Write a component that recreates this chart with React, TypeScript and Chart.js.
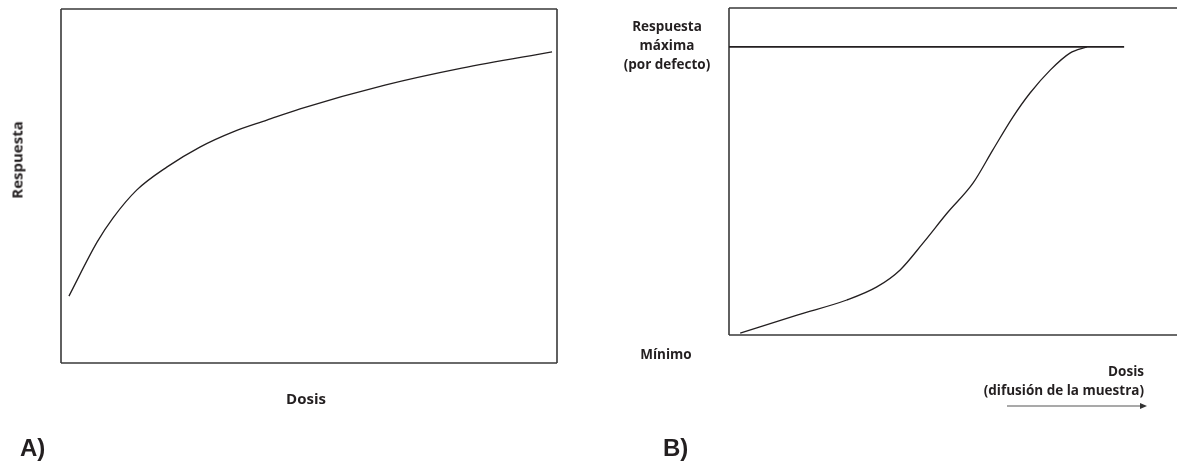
import React, { useEffect, useRef } from 'react';
import { Chart, registerables } from 'chart.js';

Chart.register(...registerables);

// Panel A: dose-response (hyperbolic-like)
const doseA = [1.6, 7.3, 10.5, 15.3, 21.4, 28.0, 34.7, 41.5, 48.2, 65.3, 80.8, 99.0];
const responseA = [18.9, 34.2, 41.0, 48.9, 55.4, 61.0, 65.3, 68.6, 71.8, 78.5, 83.3, 87.9];

// Panel B: sigmoid up to the default maximum response
const doseB = [2.5, 15.2, 26.3, 33.0, 38.2, 43.3, 48.7, 54.5, 58.9, 63.4, 67.2, 71.7, 76.1, 79.9];
const responseB = [0.6, 6.1, 10.7, 14.7, 19.9, 28.1, 37.3, 46.5, 56.6, 66.7, 74.0, 81.0, 86.2, 88.1];
const maxLineDose = [0, 88.2];
const maxResponse = 88.1;

const INK = '#231f20';

type Side = 'left' | 'top' | 'right' | 'bottom';

const framePlugin = {
  id: 'frame',
  beforeDatasetsDraw(chart: any, _args: any, opts: any) {
    const { ctx, chartArea } = chart;
    const { left, top, right, bottom } = chartArea;
    const sides: Side[] = opts.sides || ['left', 'top', 'right', 'bottom'];
    ctx.save();
    ctx.strokeStyle = '#3a3a3a';
    ctx.lineWidth = 1.6;
    ctx.beginPath();
    if (sides.includes('left')) { ctx.moveTo(left, top); ctx.lineTo(left, bottom); }
    if (sides.includes('top')) { ctx.moveTo(left, top); ctx.lineTo(right, top); }
    if (sides.includes('right')) { ctx.moveTo(right, top); ctx.lineTo(right, bottom); }
    if (sides.includes('bottom')) { ctx.moveTo(left, bottom); ctx.lineTo(right, bottom); }
    ctx.stroke();
    ctx.restore();
  }
};

interface Series {
  xs: number[];
  ys: number[];
  width?: number;
  monotone?: boolean;
}

interface PanelProps {
  width: number;
  height: number;
  padding: { left: number; top: number; right: number; bottom: number };
  series: Series[];
  sides?: Side[];
}

const Panel: React.FC<PanelProps> = ({ width, height, padding, series, sides }) => {
  const canvasRef = useRef<HTMLCanvasElement>(null);

  useEffect(() => {
    if (!canvasRef.current) return;
    const chart = new Chart(canvasRef.current, {
      type: 'line',
      data: {
        datasets: series.map(s => ({
          data: s.xs.map((x, i) => ({ x, y: s.ys[i] })),
          borderColor: INK,
          borderWidth: s.width ?? 1.3,
          pointRadius: 0,
          fill: false,
          cubicInterpolationMode: s.monotone ? 'monotone' : 'default',
          tension: 0
        }))
      },
      options: {
        responsive: false,
        animation: false,
        devicePixelRatio: 1,
        layout: { padding },
        plugins: {
          legend: { display: false },
          tooltip: { enabled: false },
          frame: { sides }
        } as any,
        scales: {
          x: { type: 'linear', min: 0, max: 100, display: false },
          y: { min: 0, max: 100, display: false }
        }
      },
      plugins: [framePlugin]
    });
    return () => chart.destroy();
  }, [series, sides, padding]);

  return <canvas ref={canvasRef} width={width} height={height} style={{ display: 'block' }} />;
};

const label: React.CSSProperties = {
  position: 'absolute',
  fontFamily: '"Open Sans", "Noto Sans", sans-serif',
  fontWeight: 700,
  color: INK,
  whiteSpace: 'nowrap',
  lineHeight: 1
};

const panelTag: React.CSSProperties = {
  position: 'absolute',
  fontFamily: '"Liberation Sans", Arial, sans-serif',
  fontWeight: 700,
  fontSize: 24,
  color: INK,
  lineHeight: 1
};

const seriesA: Series[] = [{ xs: doseA, ys: responseA, monotone: true }];
const seriesB: Series[] = [
  { xs: maxLineDose, ys: maxLineDose.map(() => maxResponse), width: 1.8 },
  { xs: doseB, ys: responseB, monotone: true }
];
const padA = { left: 61, top: 9, right: 43, bottom: 100 };
const padB = { left: 89, top: 8, right: 0, bottom: 128 };
const sidesB: Side[] = ['left', 'top', 'bottom'];

export default function App() {
  return (
    <div style={{ position: 'fixed', left: 0, top: 0, width: 1177, height: 463, background: '#fff', overflow: 'hidden' }}>
      <div style={{ position: 'absolute', left: 0, top: 0 }}>
        <Panel width={600} height={463} padding={padA} series={seriesA} />
      </div>
      <div style={{ position: 'absolute', left: 640, top: 0 }}>
        <Panel width={537} height={463} padding={padB} series={seriesB} sides={sidesB} />
      </div>

      {/* Panel A labels */}
      <div style={{ ...label, fontSize: 15, left: 17, top: 160, transform: 'translate(-50%, -50%) rotate(-90deg)' }}>
        Respuesta
      </div>
      <div style={{ ...label, fontSize: 15, left: 306, top: 398, transform: 'translate(-50%, -50%)' }}>
        Dosis
      </div>
      <div style={{ ...panelTag, left: 20, top: 436 }}>A)</div>

      {/* Panel B labels */}
      <div style={{ ...label, fontSize: 13.5, left: 667, top: 17, transform: 'translateX(-50%)', textAlign: 'center', lineHeight: '19px' }}>
        Respuesta<br />máxima<br />(por defecto)
      </div>
      <div style={{ ...label, fontSize: 13.5, left: 666, top: 355, transform: 'translate(-50%, -50%)' }}>
        Mínimo
      </div>
      <div style={{ ...label, fontSize: 13.5, right: 1177 - 1144, top: 362, textAlign: 'right', lineHeight: '19px' }}>
        Dosis<br />(difusión de la muestra)
      </div>
      <svg style={{ position: 'absolute', left: 1000, top: 400 }} width={150} height={12}>
        <line x1={7} y1={6} x2={142} y2={6} stroke="#555" strokeWidth={1.2} />
        <polygon points="140,3 147,6 140,9" fill="#333" />
      </svg>
      <div style={{ ...panelTag, left: 663, top: 436 }}>B)</div>
    </div>
  );
}
